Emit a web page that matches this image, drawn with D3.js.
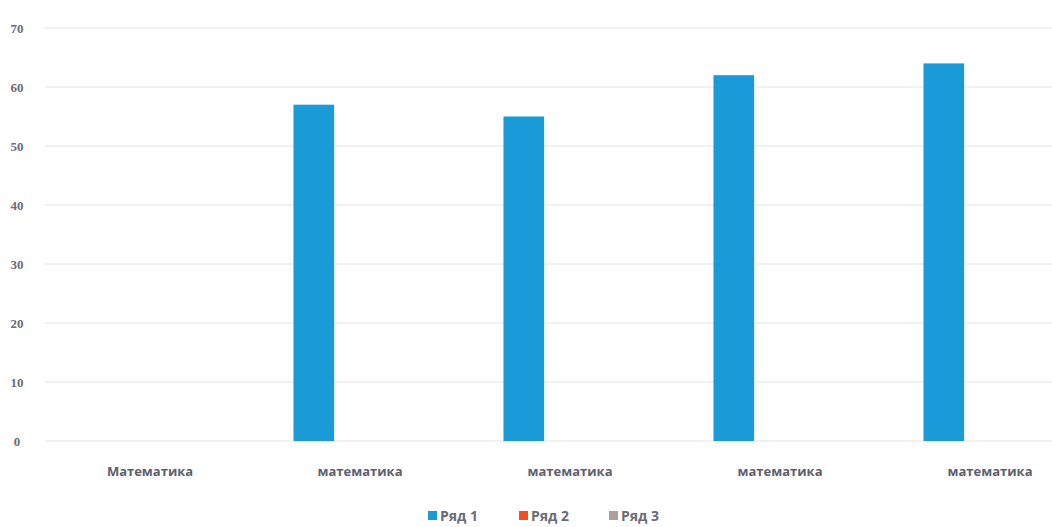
<!DOCTYPE html>
<html><head><meta charset="utf-8">
<script src="https://cdn.jsdelivr.net/npm/d3@7"></script>
<style>body{margin:0;background:#fff}svg{display:block}</style>
</head><body>
<svg id="c" width="1052" height="527"></svg>
<script>
const categories = ["Математика","математика","математика","математика","математика"];
const seriesNames = ["Ряд 1","Ряд 2","Ряд 3"];
const ряд1 = [0, 57, 55, 62, 64];
const ряд2 = [0, 0, 0, 0, 0];
const ряд3 = [0, 0, 0, 0, 0];
const yTicks = [0,10,20,30,40,50,60,70];
const colors = ["#1b9ad8","#f04e23","#a9a19b"];

const series = [ряд1, ряд2, ряд3];
const svg = d3.select("#c");
const x = d3.scaleBand().domain(categories.map((d,i)=>i)).range([45,1095]).paddingInner(0.34).paddingOuter(0.17);
const x1 = d3.scaleBand().domain(seriesNames).range([0,x.bandwidth()]).paddingInner(0.12).paddingOuter(0.06);
const y = d3.scaleLinear().domain([0,70]).range([441,28]);

// gridlines
svg.append("g").selectAll("line").data(yTicks).join("line")
  .attr("x1",45).attr("x2",1052).attr("y1",d=>y(d)).attr("y2",d=>y(d))
  .attr("stroke","#e4e4e4").attr("stroke-width",1);

// y axis labels
const ya = svg.append("g").attr("transform","translate(17,0)")
  .call(d3.axisLeft(y).tickValues(yTicks).tickSize(0).tickPadding(0));
ya.select(".domain").remove();
ya.selectAll("text").attr("font-family","Liberation Serif, serif").attr("font-size",13).attr("font-weight","bold").attr("fill","#6a6a78").attr("text-anchor","middle");

// bars
const g = svg.append("g");
series.forEach((vals,si)=>{
  g.append("g").selectAll("rect").data(vals).join("rect")
    .attr("x",(d,i)=>x(i)+x1(seriesNames[si]))
    .attr("width",x1.bandwidth())
    .attr("y",d=>y(d))
    .attr("height",d=>y(0)-y(d))
    .attr("fill",colors[si]);
});

// x axis labels
const xa = svg.append("g").attr("transform","translate(0,441)")
  .call(d3.axisBottom(x).tickFormat(i=>categories[i]).tickSize(0).tickPadding(26));
xa.select(".domain").remove();
xa.selectAll("text").attr("font-family","Open Sans, sans-serif").attr("font-size",13).attr("font-weight","bold").attr("fill","#5e5e70");

// legend
const lx = [428, 519, 609];
const lg = svg.append("g");
seriesNames.forEach((n,i)=>{
  lg.append("rect").attr("x",lx[i]).attr("y",511).attr("width",9).attr("height",9).attr("fill",colors[i]);
  lg.append("text").attr("x",lx[i]+12).attr("y",521).text(n)
    .attr("font-family","Open Sans, sans-serif").attr("font-size",14).attr("font-weight","bold").attr("fill","#6a6a78");
});
</script>
</body></html>
